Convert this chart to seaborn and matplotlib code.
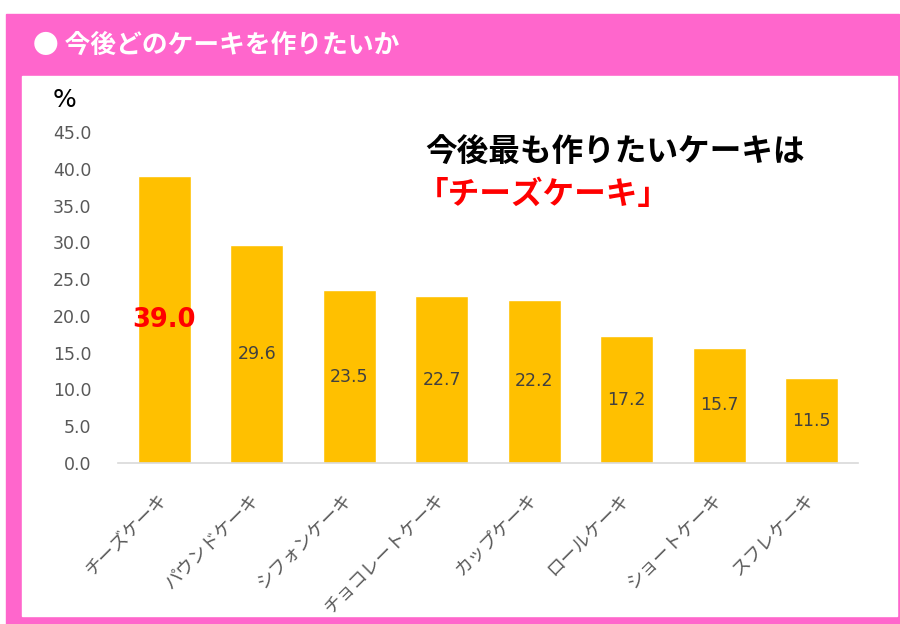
import matplotlib
matplotlib.use("Agg")
import matplotlib.pyplot as plt
from matplotlib.patches import Rectangle
import seaborn as sns
import pandas as pd

# DATA
cakes = ["チーズケーキ", "パウンドケーキ", "シフォンケーキ", "チョコレートケーキ",
         "カップケーキ", "ロールケーキ", "ショートケーキ", "スフレケーキ"]
pct = [39.0, 29.6, 23.5, 22.7, 22.2, 17.2, 15.7, 11.5]
y_ticks = [0, 5, 10, 15, 20, 25, 30, 35, 40, 45]

title = "● 今後どのケーキを作りたいか"
note_line1 = "今後最も作りたいケーキは"
note_line2 = "「チーズケーキ」"

df = pd.DataFrame({"cake": cakes, "pct": pct})

sns.set_style("white")
plt.rcParams["font.family"] = ["Noto Sans CJK JP", "DejaVu Sans"]

pink = "#FF66CC"
bar_color = "#FFC000"
grey = "#595959"
num_font = "DejaVu Sans"

fig = plt.figure(figsize=(9, 6.24), dpi=100)
fig.patch.set_facecolor("white")

# pink frame + white panel (pixel coords from the top-left)
W, H = 900, 624
fig.patches.append(Rectangle((6 / W, 0), (899 - 6) / W, (624 - 14) / H,
                             transform=fig.transFigure, color=pink, zorder=-2))
fig.patches.append(Rectangle((22 / W, (H - 616) / H), (897 - 22) / W, (616 - 76) / H,
                             transform=fig.transFigure, color="white", zorder=-1))

ax = fig.add_axes([118 / W, (H - 463) / H, (858 - 118) / W, (463 - 132) / H])
ax.set_zorder(2)
ax.patch.set_alpha(0)

sns.barplot(data=df, x="cake", y="pct", color=bar_color, width=0.57,
            saturation=1, ax=ax)

ax.set_xlim(-0.5, len(cakes) - 0.5)
ax.set_ylim(0, 45)
ax.set_yticks(y_ticks)
ax.set_yticklabels([f"{t:.1f}" for t in y_ticks], color=grey, fontsize=12.5,
                   family=num_font)
ax.set_xticks(range(len(cakes)))
ax.set_xticklabels(cakes, rotation=45, ha="right", va="center",
                   rotation_mode="anchor", color=grey, fontsize=13)
ax.tick_params(axis="x", length=0, pad=24)
ax.tick_params(axis="y", length=0, pad=19)
ax.set_xlabel("")
ax.set_ylabel("")

for side in ["top", "right", "left"]:
    ax.spines[side].set_visible(False)
ax.spines["bottom"].set_color("#D9D9D9")
ax.spines["bottom"].set_linewidth(1.2)

# value labels in the middle of each bar
for i, v in enumerate(pct):
    if i == 0:
        ax.text(i, v / 2, f"{v:.1f}", ha="center", va="center",
                color="#FF0000", fontsize=18.5, fontweight="bold", family=num_font)
    else:
        ax.text(i, v / 2, f"{v:.1f}", ha="center", va="center",
                color="#404040", fontsize=12.5, family=num_font)

# header, unit and note
fig.text(33 / W, 1 - 45 / H, title, color="white", fontsize=18.5,
         fontweight="bold", ha="left", va="center")
fig.text(65 / W, 1 - 100 / H, "%", color="black", fontsize=18,
         ha="center", va="center", family=num_font)
fig.text(425 / W, 1 - 153 / H, note_line1, color="black", fontsize=22.8,
         fontweight="bold", ha="left", va="center")
fig.text(417 / W, 1 - 195 / H, note_line2, color="#FF0000", fontsize=22.8,
         fontweight="bold", ha="left", va="center")

fig.savefig("out.png", dpi=100)
